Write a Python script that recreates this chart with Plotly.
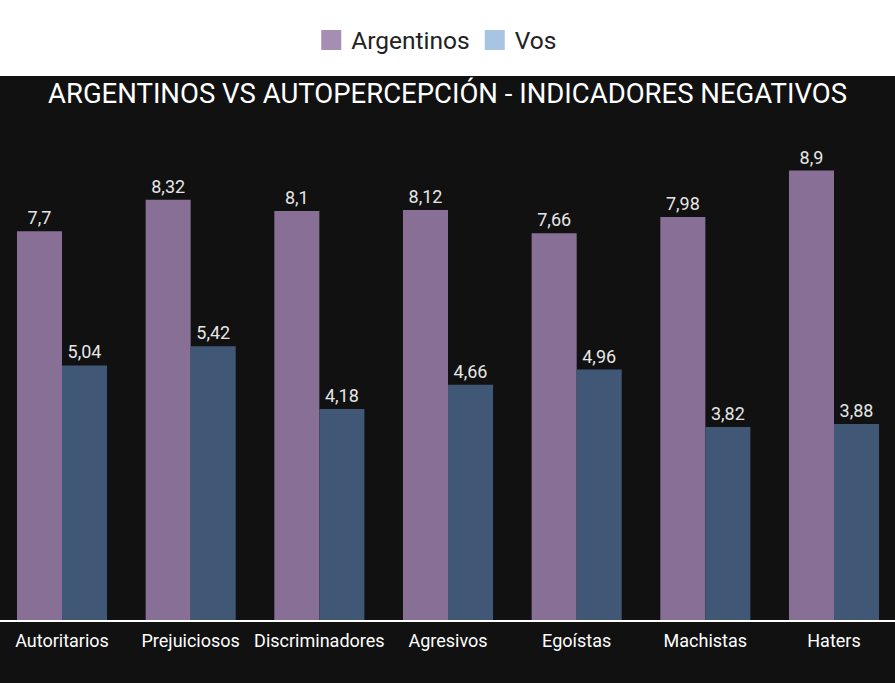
import plotly.graph_objects as go

categorias = ["Autoritarios", "Prejuiciosos", "Discriminadores", "Agresivos", "Egoístas", "Machistas", "Haters"]
argentinos = [7.7, 8.32, 8.1, 8.12, 7.66, 7.98, 8.9]
vos = [5.04, 5.42, 4.18, 4.66, 4.96, 3.82, 3.88]


def etiqueta(v):
    return f"{v:g}".replace(".", ",")


fig = go.Figure()
fig.add_trace(go.Bar(x=categorias, y=argentinos, name="Argentinos", marker_color="#876f96",
                     marker_line_width=0,
                     text=[etiqueta(v) for v in argentinos], textposition="outside",
                     textfont=dict(color="#e6e6e6", size=18), showlegend=False, cliponaxis=False))
fig.add_trace(go.Bar(x=categorias, y=vos, name="Vos", marker_color="#405875",
                     marker_line_width=0,
                     text=[etiqueta(v) for v in vos], textposition="outside",
                     textfont=dict(color="#e6e6e6", size=18), showlegend=False, cliponaxis=False))

# leyenda con colores mas claros
fig.add_trace(go.Scatter(x=[None], y=[None], mode="markers", name="Argentinos",
                         marker=dict(symbol="square", size=22, color="#a68db4",
                                     line=dict(width=4, color="#a68db4"))))
fig.add_trace(go.Scatter(x=[None], y=[None], mode="markers", name="Vos",
                         marker=dict(symbol="square", size=22, color="#a9c3e4",
                                     line=dict(width=4, color="#a9c3e4"))))

fig.update_layout(
    width=895, height=683,
    margin=dict(l=0, r=0, t=115, b=63),
    paper_bgcolor="#111111",
    plot_bgcolor="#111111",
    font=dict(family="Roboto", color="#ffffff"),
    barmode="group",
    bargap=0.3,
    bargroupgap=0,
    title=dict(text="ARGENTINOS VS AUTOPERCEPCIÓN - INDICADORES NEGATIVOS",
               x=0.5, xanchor="center", y=1 - 93 / 683, yanchor="middle",
               font=dict(size=27.5, color="#ffffff", family="Roboto")),
    legend=dict(orientation="h", x=0.488, xanchor="center", y=(620 - 40) / 505, yanchor="middle",
                font=dict(size=24.5, color="#222222"), itemsizing="trace", bgcolor="rgba(0,0,0,0)"),
    shapes=[dict(type="rect", xref="paper", yref="paper", x0=-0.1, x1=1.1,
                 y0=(620 - 76) / 505, y1=1.3, fillcolor="#ffffff", line_width=0, layer="below")],
    xaxis=dict(showline=True, linecolor="#ffffff", linewidth=1.5, ticks="",
               range=[-0.482, 6.474], ticklabelstandoff=4,
               tickfont=dict(size=18, color="#ffffff"), showgrid=False),
    yaxis=dict(range=[0, 10], visible=False, showgrid=False),
)

fig.write_html("out.html", config={"displayModeBar": False},
               post_script="document.body.style.margin='0';")
